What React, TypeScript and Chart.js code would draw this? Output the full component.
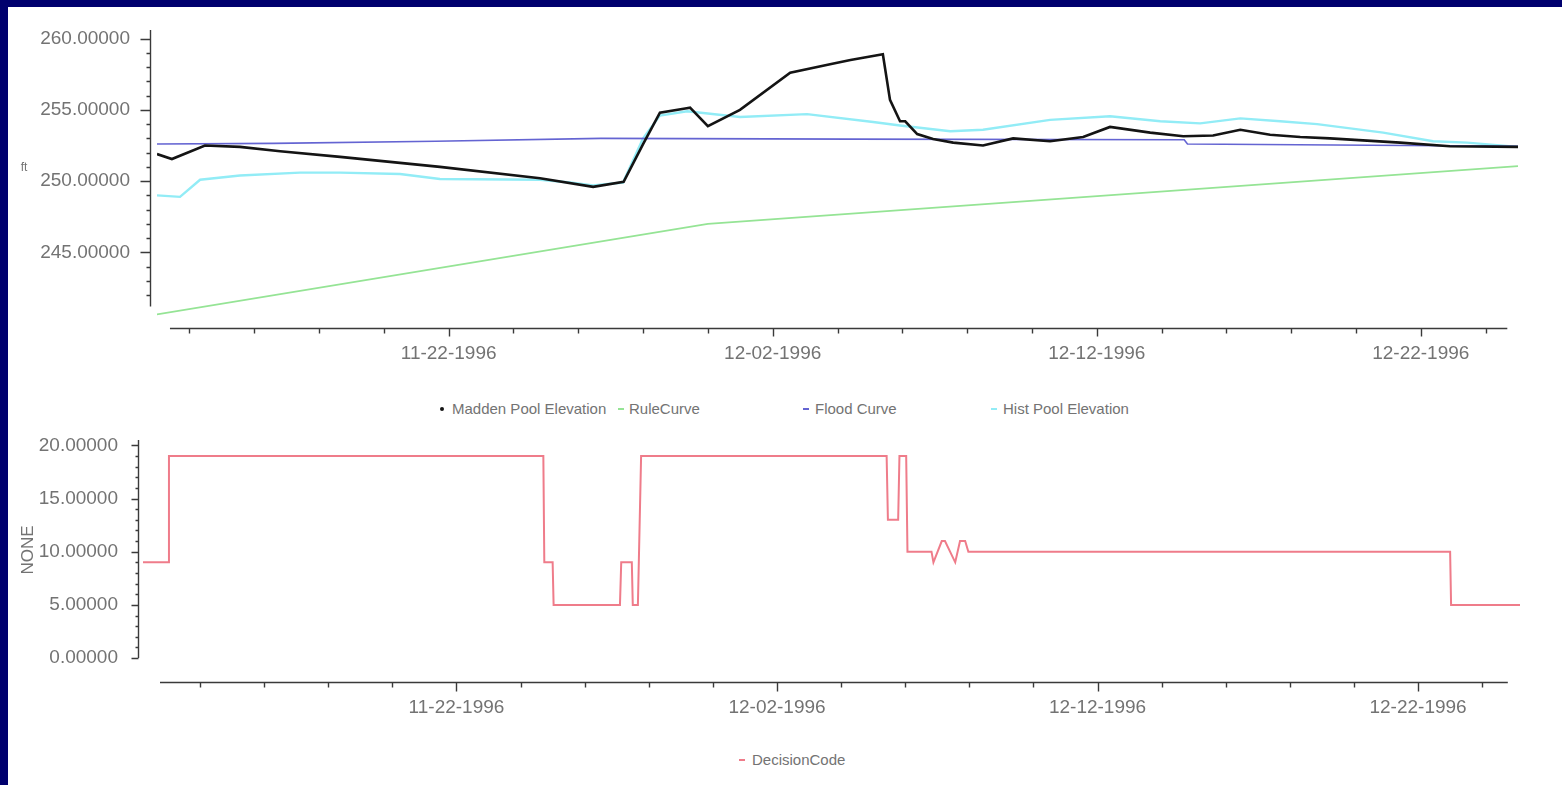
import React, { useEffect, useRef } from "react";
import { Chart, registerables } from "chart.js";

Chart.register(...registerables);

// ---------- data (x = days since 11-13-1996) ----------
const maddenDays = [0, 0.46, 1.48, 2.56, 3.8, 5.65, 8.73, 11.82, 13.46, 14.4, 15.0, 15.52, 16.3, 16.45, 17.0, 17.99, 19.54, 20.77, 21.4, 22.4, 22.62, 22.93, 23.09, 23.46, 23.95, 24.57, 25.49, 26.42, 27.56, 28.58, 29.41, 30.65, 31.67, 32.59, 33.43, 34.35, 35.28, 36.2, 38.36, 39.9, 42];
const maddenElev = [251.9, 251.55, 252.5, 252.4, 252.1, 251.7, 251.0, 250.2, 249.6, 249.95, 252.6, 254.8, 255.1, 255.15, 253.85, 255.0, 257.6, 258.2, 258.5, 258.9, 255.7, 254.2, 254.2, 253.3, 252.95, 252.7, 252.5, 253.0, 252.8, 253.1, 253.8, 253.4, 253.15, 253.2, 253.6, 253.25, 253.1, 253.0, 252.7, 252.45, 252.4];

const ruleDays = [0, 17, 42];
const ruleElev = [240.65, 247.0, 251.05];

const floodDays = [0, 3.6, 8.6, 13.7, 21.4, 31.7, 31.8, 42];
const floodElev = [252.6, 252.65, 252.8, 253.0, 252.95, 252.9, 252.6, 252.45];

const histDays = [0, 0.71, 1.33, 2.56, 4.41, 5.65, 7.5, 8.73, 11.82, 12.75, 13.46, 14.38, 15.0, 15.52, 16.36, 17.99, 20.06, 22.1, 22.93, 24.48, 25.49, 27.56, 29.41, 30.96, 32.19, 33.43, 34.66, 35.8, 37.84, 39.38, 40.43, 42];
const histElev = [249.0, 248.9, 250.1, 250.4, 250.6, 250.6, 250.5, 250.15, 250.1, 249.9, 249.7, 249.9, 253.0, 254.6, 254.9, 254.5, 254.7, 254.15, 253.9, 253.5, 253.6, 254.3, 254.55, 254.2, 254.05, 254.4, 254.2, 254.0, 253.4, 252.8, 252.7, 252.4];

const decisionDays = [-0.78, 0.0, 0.03, 11.71, 11.74, 12.0, 12.03, 14.1, 14.14, 14.47, 14.5, 14.66, 14.76, 22.42, 22.46, 22.78, 22.82, 23.03, 23.07, 23.82, 23.88, 24.14, 24.24, 24.56, 24.71, 24.87, 24.97, 40.0, 40.03, 42.18];
const decisionCodes = [9, 9, 19, 19, 9, 9, 5, 5, 9, 9, 5, 5, 19, 19, 13, 13, 19, 19, 10, 10, 9, 11, 11, 9, 11, 11, 10, 10, 5, 5];

const seriesNames = ["Madden Pool Elevation", "RuleCurve", "Flood Curve", "Hist Pool Elevation"];
const decisionName = "DecisionCode";

const elevTicks = [245, 250, 255, 260];
const codeTicks = [0, 5, 10, 15, 20];
const dateTickDays = [9, 19, 29, 39];
const dateTickLabels = ["11-22-1996", "12-02-1996", "12-12-1996", "12-22-1996"];

// ---------- styling ----------
const FONT = "'Liberation Sans', Arial, Helvetica, sans-serif";
const TEXT = "#737373";
const AXIS = "#3a3a3a";
const NAVY = "#00006e";
const C_MADDEN = "#141414";
const C_RULE = "#95e495";
const C_FLOOD = "#6464d2";
const C_HIST = "#92ecf6";
const C_DEC = "#ef7c8a";

const toXY = (xs: number[], ys: number[]) => xs.map((x, i) => ({ x, y: ys[i] }));
const dateLabel = (v: number) => {
  const i = dateTickDays.indexOf(Number(v));
  return i >= 0 ? dateTickLabels[i] : "";
};

const axisPainter = {
  id: "axisPainter",
  afterDraw(chart: any, _args: any, o: any) {
    const { ctx, chartArea } = chart;
    const xs = chart.scales.x;
    const ys = chart.scales.y;
    ctx.save();
    ctx.strokeStyle = AXIS;
    ctx.lineWidth = 1.4;
    // y axis
    const ax = Math.round(chartArea.left - o.yGap) + 0.5;
    ctx.beginPath();
    ctx.moveTo(ax, ys.getPixelForValue(o.yTo));
    ctx.lineTo(ax, ys.getPixelForValue(o.yFrom));
    for (let v = Math.ceil(o.yFrom); v <= o.yTo + 1e-9; v += 1) {
      const len = v % o.yMajor === 0 ? o.yMajorLen : o.yMinorLen;
      const py = Math.round(ys.getPixelForValue(v)) + 0.5;
      ctx.moveTo(ax, py);
      ctx.lineTo(ax - len, py);
    }
    ctx.stroke();
    // x axis
    const ay = Math.round(chartArea.bottom) + 0.5;
    ctx.beginPath();
    ctx.moveTo(xs.getPixelForValue(o.xFrom), ay);
    ctx.lineTo(xs.getPixelForValue(o.xTo), ay);
    for (let d = 1; d <= o.xTo; d += 2) {
      const len = dateTickDays.includes(d) ? o.xMajorLen : o.xMinorLen;
      const px = Math.round(xs.getPixelForValue(d)) + 0.5;
      ctx.moveTo(px, ay);
      ctx.lineTo(px, ay + len);
    }
    ctx.stroke();
    // axis title
    ctx.fillStyle = TEXT;
    ctx.font = `${o.titleSize}px ${FONT}`;
    ctx.textAlign = "center";
    ctx.textBaseline = "middle";
    ctx.translate(o.titleX, o.titleY);
    if (o.titleRotate) ctx.rotate(-Math.PI / 2);
    ctx.fillText(o.title, 0, 0);
    ctx.restore();
  },
};

function makeScales(p: any) {
  return {
    x: {
      type: "linear",
      min: p.xMin,
      max: p.xMax,
      grid: { display: false, drawTicks: false },
      border: { display: false },
      afterBuildTicks: (s: any) => {
        s.ticks = dateTickDays.map((value) => ({ value }));
      },
      afterFit: (s: any) => {
        s.height = p.xHeight;
        s.paddingLeft = 0;
        s.paddingRight = 0;
      },
      ticks: {
        autoSkip: false,
        maxRotation: 0,
        minRotation: 0,
        padding: p.xPad,
        color: TEXT,
        font: { family: FONT, size: 19, lineHeight: 1.2 },
        callback: (v: any) => dateLabel(v),
      },
    },
    y: {
      type: "linear",
      min: p.yMin,
      max: p.yMax,
      grid: { display: false, drawTicks: false },
      border: { display: false },
      afterBuildTicks: (s: any) => {
        s.ticks = p.yTicks.map((value: number) => ({ value }));
      },
      afterFit: (s: any) => {
        s.width = p.yWidth;
        s.paddingTop = 0;
        s.paddingBottom = 0;
      },
      ticks: {
        autoSkip: false,
        padding: p.yPad,
        color: TEXT,
        font: { family: FONT, size: 19, lineHeight: 1.2 },
        callback: (v: any) => Number(v).toFixed(5),
      },
    },
  };
}

function topConfig(): any {
  return {
    type: "line",
    data: {
      datasets: [
        { label: seriesNames[0], data: toXY(maddenDays, maddenElev), borderColor: C_MADDEN, borderWidth: 2.6 },
        { label: seriesNames[1], data: toXY(ruleDays, ruleElev), borderColor: C_RULE, borderWidth: 1.8 },
        { label: seriesNames[2], data: toXY(floodDays, floodElev), borderColor: C_FLOOD, borderWidth: 1.6 },
        { label: seriesNames[3], data: toXY(histDays, histElev), borderColor: C_HIST, borderWidth: 2.4 },
      ].map((d) => ({ ...d, pointRadius: 0, tension: 0, fill: false })),
    },
    options: {
      animation: false,
      responsive: false,
      maintainAspectRatio: false,
      layout: { padding: { left: 0, top: 23, right: 44, bottom: 0 } },
      plugins: {
        legend: { display: false },
        tooltip: { enabled: false },
        axisPainter: {
          yGap: 7, yFrom: 241.2, yTo: 260.6, yMajor: 5, yMajorLen: 10, yMinorLen: 4,
          xFrom: 0.4, xTo: 41.67, xMajorLen: 8, xMinorLen: 5,
          title: "ft", titleX: 16, titleY: 161, titleSize: 12, titleRotate: false,
        },
      },
      scales: makeScales({ xMin: 0, xMax: 42, xHeight: 59, xPad: 14, yMin: 239.7, yMax: 260.6, yTicks: elevTicks, yWidth: 149, yPad: 27 }),
    },
    plugins: [axisPainter],
  };
}

function bottomConfig(): any {
  return {
    type: "line",
    data: {
      datasets: [
        { label: decisionName, data: toXY(decisionDays, decisionCodes), borderColor: C_DEC, borderWidth: 2, pointRadius: 0, tension: 0, fill: false },
      ],
    },
    options: {
      animation: false,
      responsive: false,
      maintainAspectRatio: false,
      layout: { padding: { left: 0, top: 20, right: 42, bottom: 0 } },
      plugins: {
        legend: { display: false },
        tooltip: { enabled: false },
        axisPainter: {
          yGap: 5, yFrom: 0, yTo: 20.5, yMajor: 5, yMajorLen: 7, yMinorLen: 3,
          xFrom: -0.25, xTo: 41.8, xMajorLen: 9, xMinorLen: 5,
          title: "NONE", titleX: 20, titleY: 130, titleSize: 17, titleRotate: true,
        },
      },
      scales: makeScales({ xMin: -0.78, xMax: 42.18, xHeight: 68, xPad: 14, yMin: -2.25, yMax: 20.5, yTicks: codeTicks, yWidth: 135, yPad: 25 }),
    },
    plugins: [axisPainter],
  };
}

function ChartCanvas({ make, top, width, height }: { make: () => any; top: number; width: number; height: number }) {
  const ref = useRef<HTMLCanvasElement>(null);
  useEffect(() => {
    const chart = new Chart(ref.current as HTMLCanvasElement, make());
    return () => chart.destroy();
  }, []);
  return (
    <canvas
      ref={ref}
      width={width}
      height={height}
      style={{ position: "absolute", left: 0, top, width, height, display: "block" }}
    />
  );
}

const legendTopItems = [
  { color: C_MADDEN, markerX: 440, textX: 452, dot: true },
  { color: C_RULE, markerX: 618, textX: 629, dot: false },
  { color: C_FLOOD, markerX: 803, textX: 815, dot: false },
  { color: C_HIST, markerX: 991, textX: 1003, dot: false },
];

function LegendItem({ label, color, markerX, textX, dot, centerY }: any) {
  return (
    <>
      <div
        style={{
          position: "absolute",
          left: markerX - 8,
          top: centerY - 7 - (dot ? 2 : 1),
          width: dot ? 4 : 6,
          height: dot ? 4 : 2,
          borderRadius: dot ? 2 : 0,
          background: color,
        }}
      />
      <div
        style={{
          position: "absolute",
          left: textX - 8,
          top: centerY - 7 - 10,
          height: 20,
          lineHeight: "20px",
          fontFamily: FONT,
          fontSize: 15,
          color: TEXT,
          whiteSpace: "nowrap",
        }}
      >
        {label}
      </div>
    </>
  );
}

export default function App() {
  return (
    <div style={{ position: "fixed", left: 0, top: 0, width: 1562, height: 785, background: NAVY, overflow: "hidden" }}>
      <div style={{ position: "absolute", left: 8, top: 7, width: 1554, height: 778, background: "#ffffff" }}>
        <ChartCanvas make={topConfig} top={0} width={1554} height={380} />
        {legendTopItems.map((it, i) => (
          <LegendItem key={i} label={seriesNames[i]} {...it} centerY={409} />
        ))}
        <ChartCanvas make={bottomConfig} top={413} width={1554} height={330} />
        <LegendItem label={decisionName} color={C_DEC} markerX={739} textX={752} dot={false} centerY={760} />
      </div>
    </div>
  );
}
